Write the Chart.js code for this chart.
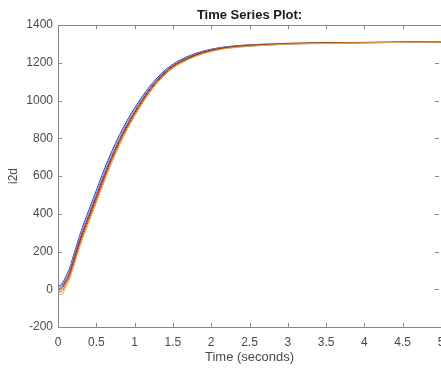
<!DOCTYPE html>
<html>
<head>
<meta charset="utf-8">
<script src="https://cdn.jsdelivr.net/npm/chart.js@4"></script>
<style>
  html, body { margin: 0; padding: 0; background: #ffffff; overflow: hidden; }
  .wrap { position: relative; width: 441px; height: 368px; }
</style>
</head>
<body>
<div class="wrap"><canvas id="chart"></canvas></div>
<script>
// time samples (seconds)
const TIME = [0, 0.05, 0.1, 0.15, 0.2, 0.3, 0.4, 0.5, 0.6, 0.7, 0.8, 0.9, 1.0, 1.1, 1.2, 1.3, 1.4, 1.5, 1.6, 1.8, 2.0, 2.2, 2.5, 2.8, 3.0, 3.5, 4.0, 4.5, 5.0];

// i2d responses
const NAVY   = [15, 28, 66, 110, 176, 306, 416, 523, 630, 728, 815, 892, 960, 1021, 1076, 1122, 1162, 1192, 1216, 1250, 1272, 1285, 1295, 1300, 1303, 1306, 1308, 1310, 1311];
const CYAN   = [8, 20, 58, 100, 166, 296, 404, 510, 617, 716, 804, 882, 951, 1013, 1069, 1117, 1157, 1188, 1212, 1247, 1270, 1283, 1293, 1299, 1302, 1305, 1307, 1309, 1310];
const PURPLE = [0, 13, 48, 88, 153, 282, 390, 496, 603, 703, 792, 871, 941, 1005, 1062, 1111, 1152, 1184, 1208, 1244, 1267, 1281, 1292, 1298, 1301, 1305, 1307, 1309, 1310];
const RED    = [-6, 3, 38, 78, 141, 270, 378, 484, 591, 692, 782, 862, 933, 998, 1056, 1106, 1147, 1180, 1204, 1241, 1265, 1279, 1290, 1296, 1300, 1304, 1306, 1308, 1310];
const ORANGE = [-15, -12, 24, 65, 128, 256, 364, 470, 578, 680, 771, 852, 924, 990, 1049, 1100, 1142, 1175, 1200, 1237, 1262, 1277, 1288, 1295, 1299, 1303, 1306, 1308, 1310];
const YELLOW = [-25, -28, 8, 50, 113, 241, 349, 456, 565, 667, 759, 842, 915, 982, 1042, 1094, 1137, 1170, 1196, 1234, 1259, 1275, 1287, 1294, 1298, 1302, 1305, 1308, 1310];

const X_TICKS = [0, 0.5, 1, 1.5, 2, 2.5, 3, 3.5, 4, 4.5, 5];
const Y_TICKS = [-200, 0, 200, 400, 600, 800, 1000, 1200, 1400];

const SERIES = [
  { name: "y6", values: YELLOW, color: "#EDB120" },
  { name: "y5", values: ORANGE, color: "#D95319" },
  { name: "y4", values: RED, color: "#A2142F" },
  { name: "y3", values: PURPLE, color: "#7E2F8E" },
  { name: "y2", values: CYAN, color: "#4DBEEE" },
  { name: "y1", values: NAVY, color: "#1F2F8A" },
];

const AXIS_COLOR = "#8a8a8a";
const TEXT_COLOR = "#4a4a4a";
const FONT = "'Liberation Sans', Arial, sans-serif";

// box around the axes, with inward ticks on all four sides
const matlabBox = {
  id: "matlabBox",
  afterDatasetsDraw(chart) {
    const { ctx, chartArea: a, scales } = chart;
    ctx.save();
    ctx.strokeStyle = AXIS_COLOR;
    ctx.lineWidth = 1;
    ctx.strokeRect(a.left + 0.5, a.top + 0.5, a.right - a.left, a.bottom - a.top);
    const len = 4;
    ctx.beginPath();
    X_TICKS.forEach((v) => {
      const x = Math.round(scales.x.getPixelForValue(v)) + 0.5;
      ctx.moveTo(x, a.bottom); ctx.lineTo(x, a.bottom - len);
      ctx.moveTo(x, a.top); ctx.lineTo(x, a.top + len);
    });
    Y_TICKS.forEach((v) => {
      const y = Math.round(scales.y.getPixelForValue(v)) + 0.5;
      ctx.moveTo(a.left, y); ctx.lineTo(a.left + len, y);
      ctx.moveTo(a.right - 2, y); ctx.lineTo(a.right - 2 - len, y);
    });
    ctx.stroke();
    // title
    ctx.fillStyle = "#1a1a1a";
    ctx.font = "bold 13px " + FONT;
    ctx.textAlign = "center";
    ctx.textBaseline = "alphabetic";
    ctx.fillText("Time Series Plot:", (a.left + a.right) / 2, 19);
    ctx.restore();
  },
};

new Chart(document.getElementById("chart"), {
  type: "line",
  data: {
    datasets: SERIES.map((s) => ({
      label: s.name,
      data: TIME.map((t, i) => ({ x: t, y: s.values[i] })),
      borderColor: s.color,
      borderWidth: 1,
      pointRadius: 0,
      fill: false,
      cubicInterpolationMode: "monotone",
    })),
  },
  options: {
    responsive: true,
    maintainAspectRatio: false,
    animation: false,
    layout: { padding: { top: 25, right: -2, left: 4, bottom: 0 } },
    plugins: { legend: { display: false }, tooltip: { enabled: false } },
    scales: {
      x: {
        type: "linear",
        min: 0,
        max: 5,
        afterBuildTicks: (scale) => { scale.ticks = X_TICKS.map((v) => ({ value: v })); },
        afterFit: (scale) => { scale.height = 41; scale.paddingLeft = 0; scale.paddingRight = 0; },
        grid: { display: false, drawTicks: false },
        border: { display: false },
        ticks: { color: TEXT_COLOR, font: { family: FONT, size: 12 }, padding: 8, maxRotation: 0, callback: (v) => String(v) },
        title: { display: true, text: "Time (seconds)", color: TEXT_COLOR, font: { family: FONT, size: 13 }, padding: { top: 0, bottom: 3 } },
      },
      y: {
        min: -200,
        max: 1400,
        afterBuildTicks: (scale) => { scale.ticks = Y_TICKS.map((v) => ({ value: v })); },
        afterFit: (scale) => { scale.width = 54; },
        grid: { display: false, drawTicks: false },
        border: { display: false },
        ticks: { color: TEXT_COLOR, font: { family: FONT, size: 12 }, padding: 5, callback: (v) => String(v) },
        title: { display: true, text: "i2d", color: TEXT_COLOR, font: { family: FONT, size: 12 }, padding: { top: 2, bottom: 0 } },
      },
    },
  },
  plugins: [matlabBox],
});
</script>
</body>
</html>
